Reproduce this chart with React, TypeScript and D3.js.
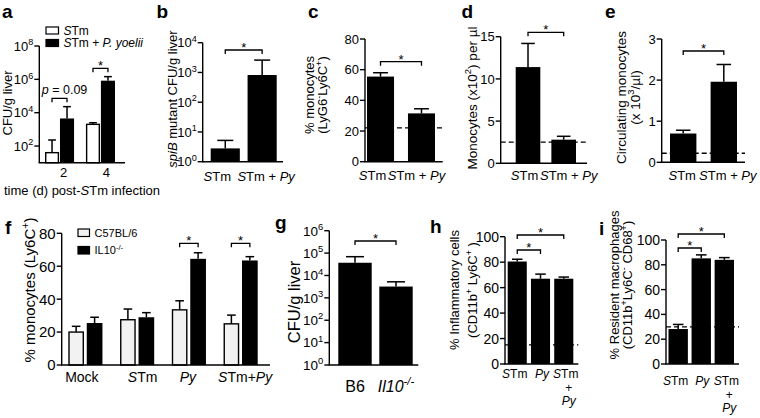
import React from "react";
import * as d3 from "d3";

// ---------------- DATA ----------------
// a
const aDays = ["2", "4"];
const aSTm = [40, 2000];
const aSTmErr = [230, 2500];
const aSTmPy = [4500, 830000];
const aSTmPyErr = [23000, 1450000];
const aTicks = [1e2, 1e4, 1e6, 1e8];
// b
const bCats = ["_S_Tm", "_S_Tm + _Py_"];
const bVals = [2.8, 820];
const bErr = [5.2, 2600];
const bTicks = [1, 10, 100, 1000, 10000];
// c
const cCats = ["_S_Tm", "_S_Tm + _Py_"];
const cVals = [55.5, 31.5];
const cErr = [58, 34.5];
const cTicks = [0, 20, 40, 60, 80];
const cRef = 22;
// d
const dCats = ["_S_Tm", "_S_Tm + _Py_"];
const dVals = [11.4, 2.8];
const dErr = [14.2, 3.2];
const dTicks = [0, 5, 10, 15];
const dRef = 2.5;
// e
const eCats = ["_S_Tm", "_S_Tm + _Py_"];
const eVals = [0.7, 1.96];
const eErr = [0.78, 2.38];
const eTicks = [0, 1, 2, 3];
const eRef = 0.22;
// f
const fCats = ["Mock", "_S_Tm", "_Py_", "_S_Tm+_Py_"];
const fB6 = [20, 27.5, 33.5, 25];
const fB6Err = [23.5, 34, 39, 30.3];
const fIL10 = [25.5, 29, 64.5, 63.5];
const fIL10Err = [29, 31.8, 68.2, 65.8];
const fTicks = [0, 20, 40, 60, 80];
// g
const gCats = ["B6", "_Il10^-/-^_"];
const gVals = [37000, 3200];
const gErr = [69000, 5200];
const gTicks = [1, 10, 100, 1e3, 1e4, 1e5, 1e6];
// h
const hCats = [["_S_Tm"], ["_Py_"], ["_S_Tm", "+", "_Py_"]];
const hVals = [80.5, 67, 67];
const hErr = [82.3, 70.6, 68.3];
const hTicks = [0, 20, 40, 60, 80, 100];
const hRef = 15;
// i
const iCats = [["_S_Tm"], ["_Py_"], ["_S_Tm", "+", "_Py_"]];
const iVals = [28.2, 85.2, 84];
const iErr = [31.9, 88, 85.8];
const iTicks = [0, 20, 40, 60, 80, 100];
const iRef = 30;

const FONT = "'Liberation Sans', Arial, Helvetica, sans-serif";
const WHITE = "#ffffff";
const LIGHT = "#f2f2f2";
const BLACK = "#000000";

// ---------------- helpers ----------------
function rich(s: string, fs: number) {
  const parts: { t: string; it: boolean; sup: boolean }[] = [];
  let it = false, sup = false, buf = "";
  const flush = () => {
    if (buf) parts.push({ t: buf, it, sup });
    buf = "";
  };
  for (const ch of s) {
    if (ch === "_") { flush(); it = !it; }
    else if (ch === "^") { flush(); sup = !sup; }
    else buf += ch;
  }
  flush();
  let cur = 0;
  return parts.map((p, k) => {
    const target = p.sup ? -fs * 0.42 : 0;
    const dy = target - cur;
    cur = target;
    return (
      <tspan key={k} dy={dy !== 0 ? dy : undefined}
        fontStyle={p.it ? "italic" : undefined}
        fontSize={p.sup ? fs * 0.7 : undefined}>{p.t}</tspan>
    );
  });
}

type Series = { vals: number[]; errs: number[]; fill: string };
type Bracket = { from: [number, number]; to: [number, number]; y: number; text: string; size?: number; dx?: number };
type Cfg = {
  letter: string; lx: number; ly: number;
  ax: number; axEnd: number; yTop: number; yBot: number;
  log?: boolean; domain: [number, number]; ticks: number[]; tickSize: number;
  cats: string[][]; band: [number, number]; padInner: number; subPad?: number;
  series: Series[]; ref?: number;
  brackets: Bracket[];
  title: { lines: string[]; x: number[]; y: number; size: number };
  xLabelY: number; xLabelSize: number; xLineGap?: number; labelDx?: number[];
};

function Panel({ c }: { c: Cfg }) {
  const y = c.log
    ? d3.scaleLog().domain(c.domain).range([c.yBot, c.yTop])
    : d3.scaleLinear().domain(c.domain).range([c.yBot, c.yTop]);
  const n = c.cats.length;
  const x0 = d3.scaleBand<number>().domain(d3.range(n)).range(c.band).paddingInner(c.padInner).paddingOuter(0);
  const x1 = d3.scaleBand<number>().domain(d3.range(c.series.length)).range([0, x0.bandwidth()]).paddingInner(c.subPad ?? 0);
  const bw = x1.bandwidth();
  const cx = (i: number, s: number) => (x0(i) as number) + (x1(s) as number) + bw / 2;
  const cap = Math.min(bw * 0.55, 18);
  const lw = 1.4;
  return (
    <g>
      <text x={c.lx} y={c.ly} fontSize={19} fontWeight="bold">{c.letter}</text>
      {/* bars */}
      {c.series.map((s, si) =>
        s.vals.map((v, i) => (
          <rect key={`b${si}-${i}`} x={(x0(i) as number) + (x1(si) as number) + (s.fill === BLACK ? 0 : lw / 2)}
            y={y(v)} width={bw - (s.fill === BLACK ? 0 : lw)} height={c.yBot - y(v)}
            fill={s.fill} stroke={s.fill === BLACK ? "none" : BLACK} strokeWidth={lw} />
        ))
      )}
      {/* error bars */}
      {c.series.map((s, si) =>
        s.vals.map((v, i) => (
          <g key={`e${si}-${i}`} stroke={BLACK} strokeWidth={1.5} fill="none">
            <line x1={cx(i, si)} x2={cx(i, si)} y1={y(v)} y2={y(s.errs[i])} />
            <line x1={cx(i, si) - cap / 2} x2={cx(i, si) + cap / 2} y1={y(s.errs[i])} y2={y(s.errs[i])} />
          </g>
        ))
      )}
      {/* reference dashed line */}
      {c.ref !== undefined && (
        <line x1={c.ax} x2={c.axEnd} y1={y(c.ref)} y2={y(c.ref)} stroke={BLACK} strokeWidth={1.3} strokeDasharray="5,3" />
      )}
      {/* axes */}
      <line x1={c.ax} x2={c.ax} y1={c.yTop} y2={c.yBot} stroke={BLACK} strokeWidth={lw} />
      <line x1={c.ax - lw / 2} x2={c.axEnd} y1={c.yBot} y2={c.yBot} stroke={BLACK} strokeWidth={lw} />
      {c.ticks.map((t) => (
        <g key={`t${t}`}>
          <line x1={c.ax - 5} x2={c.ax} y1={y(t)} y2={y(t)} stroke={BLACK} strokeWidth={lw} />
          <text x={c.ax - 6} y={y(t) + c.tickSize * 0.36} fontSize={c.tickSize} textAnchor="end">
            {c.log ? rich(`10^${Math.round(Math.log10(t))}^`, c.tickSize) : String(t)}
          </text>
        </g>
      ))}
      {/* category labels */}
      {c.cats.map((lines, i) => {
        const mid = (x0(i) as number) + x0.bandwidth() / 2 + (c.labelDx ? c.labelDx[i] : 0);
        return lines.map((ln, k) => (
          <text key={`c${i}-${k}`} x={k > 0 ? mid + 3 : mid} y={c.xLabelY + k * (c.xLineGap ?? 13)}
            fontSize={c.xLabelSize} textAnchor="middle">{rich(ln, c.xLabelSize)}</text>
        ));
      })}
      {/* brackets */}
      {c.brackets.map((b, k) => {
        const xa = cx(b.from[0], b.from[1]);
        const xb = cx(b.to[0], b.to[1]);
        const star = b.text === "*";
        return (
          <g key={`br${k}`}>
            <path d={`M${xa},${b.y + 4}V${b.y}H${xb}V${b.y + 4}`} fill="none" stroke={BLACK} strokeWidth={1.3} />
            <text x={(xa + xb) / 2 + (b.dx ?? 0)} y={star ? b.y + 2 : b.y - 4} fontSize={b.size ?? 13} textAnchor="middle">
              {rich(b.text, b.size ?? 13)}
            </text>
          </g>
        );
      })}
      {/* y title */}
      {c.title.lines.map((ln, k) => (
        <text key={`yt${k}`} transform={`translate(${c.title.x[k]},${c.title.y}) rotate(-90)`}
          fontSize={c.title.size} textAnchor="middle">{rich(ln, c.title.size)}</text>
      ))}
    </g>
  );
}

const two = (cats: string[]) => cats.map((s) => [s]);

const panels: Cfg[] = [
  {
    letter: "a", lx: 2, ly: 17.5, ax: 39.3, axEnd: 125, yTop: 46, yBot: 162.7,
    log: true, domain: [10, 1e8], ticks: aTicks, tickSize: 13,
    cats: two(aDays), band: [45, 115], padInner: 0.29, subPad: 0.06,
    series: [{ vals: aSTm, errs: aSTmErr, fill: WHITE }, { vals: aSTmPy, errs: aSTmPyErr, fill: BLACK }],
    brackets: [
      { from: [0, 0], to: [0, 1], y: 98.3, text: "_p_ = 0.09", size: 12.5, dx: 5 },
      { from: [1, 0], to: [1, 1], y: 68.3, text: "*" },
    ],
    title: { lines: ["CFU/g liver"], x: [11.5], y: 103, size: 13 },
    xLabelY: 177, xLabelSize: 13, labelDx: [4, 6],
  },
  {
    letter: "b", lx: 156.5, ly: 17.5, ax: 202.7, axEnd: 283, yTop: 42.7, yBot: 161.7,
    log: true, domain: [1, 1e4], ticks: bTicks, tickSize: 13,
    cats: two(bCats), band: [210.7, 276.7], padInner: 0.21,
    series: [{ vals: bVals, errs: bErr, fill: BLACK }],
    brackets: [{ from: [0, 0], to: [1, 0], y: 50, text: "*" }],
    title: { lines: ["_spiB_ mutant CFU/g liver"], x: [177], y: 99, size: 13 },
    xLabelY: 181, xLabelSize: 13, labelDx: [-8, 4],
  },
  {
    letter: "c", lx: 308, ly: 17.5, ax: 365, axEnd: 442.7, yTop: 39, yBot: 161.7,
    domain: [0, 80], ticks: cTicks, tickSize: 13,
    cats: two(cCats), band: [367, 435], padInner: 0.34,
    series: [{ vals: cVals, errs: cErr, fill: BLACK }], ref: cRef,
    brackets: [{ from: [0, 0], to: [1, 0], y: 61.7, text: "*" }],
    title: { lines: ["% monocytes", "(LyG6^-^Ly6C^+^)"], x: [314, 327], y: 95, size: 13 },
    xLabelY: 180, xLabelSize: 13, labelDx: [-8, -5],
  },
  {
    letter: "d", lx: 461.5, ly: 17.5, ax: 500.7, axEnd: 587, yTop: 36.7, yBot: 163.3,
    domain: [0, 15], ticks: dTicks, tickSize: 13,
    cats: two(dCats), band: [515.7, 576], padInner: 0.31,
    series: [{ vals: dVals, errs: dErr, fill: BLACK }], ref: dRef,
    brackets: [{ from: [0, 0], to: [1, 0], y: 32.3, text: "*" }],
    title: { lines: ["Monocytes (x10^2^) per µl"], x: [476.5], y: 98, size: 13.5 },
    xLabelY: 180, xLabelSize: 13, labelDx: [-3.5, 5],
  },
  {
    letter: "e", lx: 605, ly: 17.5, ax: 661.7, axEnd: 745, yTop: 39, yBot: 162.3,
    domain: [0, 3], ticks: eTicks, tickSize: 13,
    cats: two(eCats), band: [670, 737], padInner: 0.35,
    series: [{ vals: eVals, errs: eErr, fill: BLACK }], ref: eRef,
    brackets: [{ from: [0, 0], to: [1, 0], y: 51, text: "*" }],
    title: { lines: ["Circulating monocytes", "(x 10^3^/µl)"], x: [626, 640], y: 97.5, size: 13.5 },
    xLabelY: 180, xLabelSize: 13, labelDx: [-1, 4],
  },
  {
    letter: "f", lx: 5, ly: 234, ax: 61.7, axEnd: 270, yTop: 233.3, yBot: 365,
    domain: [0, 80], ticks: fTicks, tickSize: 15,
    cats: two(fCats), band: [68.3, 257.7], padInner: 0.34, subPad: 0.15,
    series: [{ vals: fB6, errs: fB6Err, fill: LIGHT }, { vals: fIL10, errs: fIL10Err, fill: BLACK }],
    brackets: [
      { from: [2, 0], to: [2, 1], y: 243.3, text: "*" },
      { from: [3, 0], to: [3, 1], y: 243.3, text: "*" },
    ],
    title: { lines: ["% monocytes (Ly6C^+^)"], x: [35], y: 290, size: 15 },
    xLabelY: 382, xLabelSize: 14, labelDx: [-3.5, 5.5, -1, 4.5],
  },
  {
    letter: "g", lx: 275, ly: 229, ax: 329.3, axEnd: 418.3, yTop: 230.7, yBot: 365,
    log: true, domain: [1, 1e6], ticks: gTicks, tickSize: 13.5,
    cats: two(gCats), band: [338.3, 412.7], padInner: 0.185,
    series: [{ vals: gVals, errs: gErr, fill: BLACK }],
    brackets: [{ from: [0, 0], to: [1, 0], y: 241, text: "*" }],
    title: { lines: ["CFU/g liver"], x: [300], y: 302, size: 16.5 },
    xLabelY: 392, xLabelSize: 16,
  },
  {
    letter: "h", lx: 430, ly: 233, ax: 505, axEnd: 578.3, yTop: 236.7, yBot: 364,
    domain: [0, 100], ticks: hTicks, tickSize: 14,
    cats: hCats, band: [507.7, 573.3], padInner: 0.18,
    series: [{ vals: hVals, errs: hErr, fill: BLACK }], ref: hRef,
    brackets: [
      { from: [0, 0], to: [1, 0], y: 250, text: "*" },
      { from: [0, 0], to: [2, 0], y: 235, text: "*" },
    ],
    title: { lines: ["% Inflammatory cells", "(CD11b^+^ Ly6C^+^ )"], x: [459, 477], y: 290, size: 13 },
    xLabelY: 378, xLabelSize: 12, xLineGap: 13.5, labelDx: [-2.5, 1.5, 2],
  },
  {
    letter: "i", lx: 599, ly: 235, ax: 666, axEnd: 739, yTop: 240, yBot: 364,
    domain: [0, 100], ticks: iTicks, tickSize: 14,
    cats: iCats, band: [668.5, 734], padInner: 0.16,
    series: [{ vals: iVals, errs: iErr, fill: BLACK }], ref: iRef,
    brackets: [
      { from: [0, 0], to: [1, 0], y: 248, text: "*" },
      { from: [0, 0], to: [2, 0], y: 234, text: "*" },
    ],
    title: { lines: ["% Resident macrophages", "(CD11b^+^Ly6C^-^ CD68^+^)"], x: [619, 632], y: 285, size: 13 },
    xLabelY: 385, xLabelSize: 12, xLineGap: 13.5, labelDx: [-2.5, 1, 2],
  },
];

function Legend({ x, y, items, size, gap, bw, bh }: { x: number; y: number; items: { label: string; fill: string }[]; size: number; gap: number; bw: number; bh: number }) {
  return (
    <g>
      {items.map((it, k) => (
        <g key={k}>
          <rect x={x} y={y + k * gap} width={bw} height={bh} fill={it.fill} stroke={BLACK} strokeWidth={1.2} />
          <text x={x + bw + 5} y={y + k * gap + bh / 2 + size * 0.36} fontSize={size}>{rich(it.label, size)}</text>
        </g>
      ))}
    </g>
  );
}

export default function App() {
  return (
    <svg width={760} height={418} viewBox="0 0 760 418"
      style={{ position: "absolute", left: 0, top: 0, background: "#fff" }}
      fontFamily={FONT} fill={BLACK}>
      {panels.map((p) => <Panel key={p.letter} c={p} />)}
      <Legend x={46} y={27} size={12} gap={12.5} bw={12.5} bh={7}
        items={[{ label: "_S_Tm", fill: WHITE }, { label: "_S_Tm + _P. yoelii_", fill: BLACK }]} />
      <text x={82} y={195} fontSize={13} textAnchor="middle">{rich("time (d) post-_S_Tm infection", 13)}</text>
      <Legend x={78} y={229} size={11} gap={17.5} bw={11.5} bh={7.5}
        items={[{ label: "C57BL/6", fill: LIGHT }, { label: "IL10^-/-^", fill: BLACK }]} />
    </svg>
  );
}
